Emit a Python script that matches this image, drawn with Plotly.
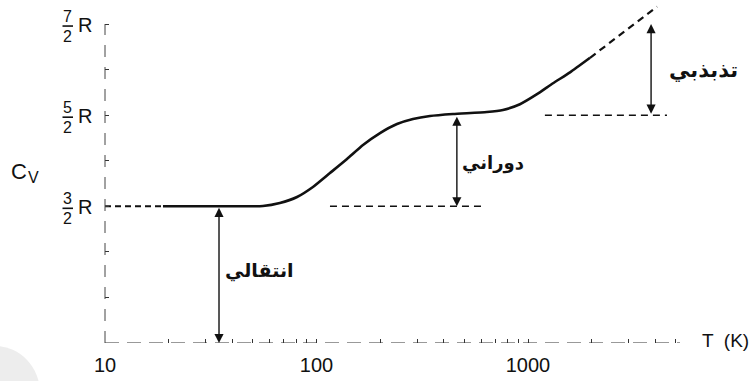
import numpy as np
import plotly.graph_objects as go

# Molar heat capacity of a diatomic gas vs temperature (log T)
T_low = [10, 18.8]
cv_low = [1.5, 1.5]

T_curve = [18.8, 39, 55.8, 67.1, 80.9, 96.2, 115.8, 139.4, 165.9, 199.7, 240.2,
           285.9, 344, 442, 639, 761, 916, 1103, 1313, 1580, 1965]
cv_curve = [1.5, 1.5, 1.503, 1.536, 1.602, 1.712, 1.865, 2.019, 2.173, 2.304, 2.403,
            2.458, 2.491, 2.513, 2.535, 2.557, 2.62, 2.73, 2.85, 2.97, 3.13]

T_high = [1965, 4075]
cv_high = [3.13, 3.69]

# Reference levels
T_rot_ref = [115.8, 612]
cv_rot_ref = [1.5, 1.5]
T_vib_ref = [1202, 4540]
cv_vib_ref = [2.5, 2.5]

# Double arrows: (T position, from, to)
arrows = [(34.6, 1.5, 0.0), (461, 2.5, 1.5), (3819, 2.5, 3.5)]
# Arrow labels: (text, paper-x pixel, cv, size)
labels = [("انتقالي", 259, 0.80, 19), ("دوراني", 493, 1.975, 18), ("تذبذبي", 704, 3.0, 21)]

y_levels = [1.5, 2.5, 3.5]
y_nums = ["3", "5", "7"]
x_ticks = [10, 100, 1000]
x_ticktext = ["10", "100", "1000"]
x_minor = [v * d for d in (10, 100, 1000) for v in range(2, 10) if v * d <= 5000]

LINE = "#111111"
fig = go.Figure()

fig.add_trace(go.Scatter(x=T_low, y=cv_low, mode="lines",
                         line=dict(color=LINE, width=2.0, dash="6px,4px")))
fig.add_trace(go.Scatter(x=T_curve, y=cv_curve, mode="lines",
                         line=dict(color=LINE, width=2.6, shape="spline", smoothing=0.5)))
fig.add_trace(go.Scatter(x=T_high, y=cv_high, mode="lines",
                         line=dict(color=LINE, width=2.2, dash="7px,5px")))
for tx, ty in ((T_rot_ref, cv_rot_ref), (T_vib_ref, cv_vib_ref)):
    fig.add_trace(go.Scatter(x=tx, y=ty, mode="lines",
                             line=dict(color=LINE, width=1.6, dash="7px,5px")))


def px_to_paper(px):
    return (px - 105) / 575.0


annotations = []
for t, y0, y1 in arrows:
    lx = np.log10(t)
    annotations.append(dict(
        x=lx, y=y1, ax=lx, ay=y0, xref="x", yref="y", axref="x", ayref="y",
        text="", showarrow=True, arrowside="end+start",
        arrowhead=2, startarrowhead=2, arrowsize=1.3, startarrowsize=1.3,
        arrowwidth=1.4, arrowcolor=LINE))
for label, px, ly, size in labels:
    annotations.append(dict(
        x=px_to_paper(px), y=ly, xref="paper", yref="y", xanchor="center",
        text=label, showarrow=False,
        font=dict(family="DejaVu Sans", size=size, color=LINE, weight="bold")))

# Fractional tick labels on the Cv axis
shapes = []
for lvl, num in zip(y_levels, y_nums):
    annotations.append(dict(x=px_to_paper(67.5), y=lvl, xref="paper", yref="y",
                            xanchor="center", text=num, showarrow=False, yshift=8,
                            font=dict(family="Liberation Sans", size=16, color=LINE)))
    annotations.append(dict(x=px_to_paper(67.5), y=lvl, xref="paper", yref="y",
                            xanchor="center", text="2", showarrow=False, yshift=-12,
                            font=dict(family="Liberation Sans", size=16, color=LINE)))
    annotations.append(dict(x=px_to_paper(84.5), y=lvl, xref="paper", yref="y",
                            xanchor="center", text="R", showarrow=False, yshift=-1,
                            font=dict(family="Liberation Sans", size=20, color=LINE)))
    shapes.append(dict(type="line", xref="paper", yref="y", ysizemode="pixel",
                       yanchor=lvl, y0=-2, y1=-2,
                       x0=px_to_paper(62.5), x1=px_to_paper(73),
                       line=dict(color=LINE, width=1.6)))

annotations.append(dict(x=px_to_paper(19), y=(343 - 171) / 91.13, xref="paper", yref="y",
                        xanchor="center", text="C", showarrow=False,
                        font=dict(family="Liberation Sans", size=22, color=LINE)))
annotations.append(dict(x=px_to_paper(33.5), y=(343 - 177) / 91.13, xref="paper", yref="y",
                        xanchor="center", text="V", showarrow=False,
                        font=dict(family="Liberation Sans", size=16, color=LINE)))
annotations.append(dict(x=px_to_paper(725), y=0, xref="paper", yref="y",
                        xanchor="center", text="T  (K)", showarrow=False, yshift=3,
                        font=dict(family="Liberation Sans", size=19, color=LINE)))

# Axis lines (broken, as on an old print)
shapes.append(dict(type="line", xref="paper", yref="y", x0=0, x1=1, y0=0, y1=0,
                   line=dict(color="#333333", width=1, dash="14px,8px")))
shapes.append(dict(type="line", xref="paper", yref="y", x0=0, x1=0, y0=0, y1=3.5,
                   line=dict(color="#444444", width=1, dash="12px,10px")))
# Faint round blot in the lower left corner
shapes.append(dict(type="circle", xref="paper", yref="paper", layer="below",
                   x0=px_to_paper(-50), x1=px_to_paper(40),
                   y0=(343 - 440) / 339.0, y1=(343 - 346) / 339.0,
                   line=dict(width=0), fillcolor="#ededed"))

fig.update_layout(
    width=754, height=381,
    margin=dict(l=105, r=74, t=4, b=38),
    paper_bgcolor="white", plot_bgcolor="white",
    showlegend=False,
    annotations=annotations, shapes=shapes,
    xaxis=dict(type="log", range=[1, 1 + 575 / 211.5], showgrid=False, zeroline=False,
               showline=False, tickvals=x_ticks + x_minor,
               ticktext=x_ticktext + [""] * len(x_minor),
               ticks="inside", ticklen=4, tickcolor="#333333", tickwidth=1,
               ticklabelstandoff=8,
               tickfont=dict(family="Liberation Sans", size=20, color=LINE)),
    yaxis=dict(range=[0, 3.72], showgrid=False, zeroline=False, showline=False,
               tickvals=[0, 0.5, 1, 1.5, 2, 2.5, 3, 3.5], showticklabels=False,
               ticks="inside", ticklen=4, tickcolor="#333333", tickwidth=1.2),
)

fig.write_html("out.html")
